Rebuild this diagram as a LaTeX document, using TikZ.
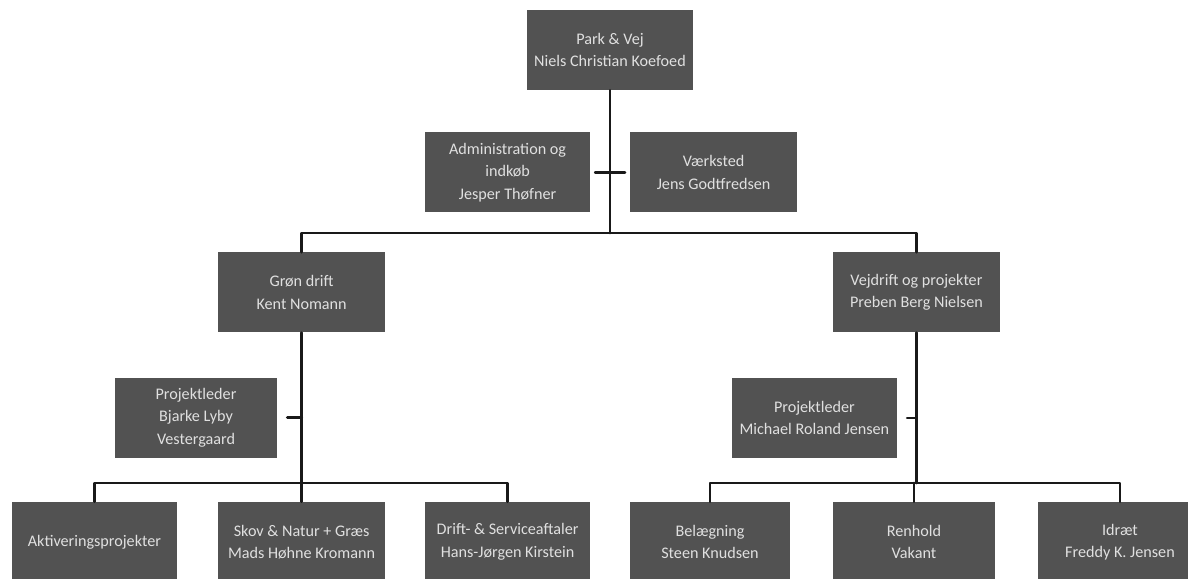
\documentclass[tikz,border=0pt]{standalone}
\usepackage{fontspec}
\setmainfont{Carlito}
\usepackage{tikz}

\begin{document}
\begin{tikzpicture}[line cap=round,line join=round,x=1.0cm,y=1.0cm,
  afd/.style={fill=black!68,text=white!88!black,minimum width=4.15cm,minimum height=2.0cm,inner sep=1pt,align=center,font=\fontsize{11.5}{16}\selectfont},
  forb/.style={line width=2pt,color=black!90}]
\clip(0,0) rectangle (29.7,14.45);
% ledelse
\node[afd] (park) at (15.25,13.2) {Park \& Vej\\Niels Christian Koefoed};
\node[afd,minimum width=4.125cm] (adm) at (12.69,10.14) {Administration og\\indkøb\\Jesper Thøfner};
\node[afd,minimum width=4.175cm] (vaerk) at (17.84,10.14) {Værksted\\Jens Godtfredsen};
% afdelinger
\node[afd,minimum width=4.175cm] (gron) at (7.54,7.14) {Grøn drift\\Kent Nomann};
\node[afd,minimum width=4.175cm] (vej) at (22.91,7.14) {Vejdrift og projekter\\Preben Berg Nielsen};
\node[afd,minimum width=4.05cm] (projA) at (4.9,4.01) {Projektleder\\Bjarke Lyby\\Vestergaard};
\node[afd,minimum width=4.125cm] (projB) at (20.36,4.0) {Projektleder\\Michael Roland Jensen};
% teams
\node[afd,minimum width=4.125cm] (akt) at (2.36,0.9) {Aktiveringsprojekter};
\node[afd,minimum width=4.175cm] (skov) at (7.54,0.9) {Skov \& Natur + Græs\\Mads Høhne Kromann};
\node[afd,minimum width=4.125cm] (drift) at (12.69,0.9) {Drift- \& Serviceaftaler\\Hans-Jørgen Kirstein};
\node[afd,minimum width=4.0cm] (bel) at (17.75,0.9) {Belægning\\Steen Knudsen};
\node[afd,minimum width=4.05cm] (ren) at (22.85,0.9) {Renhold\\Vakant};
\node[afd,minimum width=4.1cm] (idr) at (28.0,0.9) {Idræt\\Freddy K. Jensen};
% forbindelser
\coordinate (skinne1) at (15.25,8.625);
\coordinate (skinne2) at (7.54,2.375);
\coordinate (skinne3) at (22.91,2.375);
\draw[forb] (park.south) -- (skinne1);
\draw[forb] ([xshift=0.12cm]adm.east) -- ([xshift=-0.12cm]vaerk.west);
\draw[forb] (gron.north) |- (skinne1) -| (vej.north);
\draw[forb] (gron.south) -- (skinne2);
\draw[forb] ([xshift=0.25cm]projA.east) -- (projA.east -| gron.south);
\draw[forb] (akt.north) |- (skinne2) -| (drift.north);
\draw[forb] (skov.north) -- (skinne2);
\draw[forb] (vej.south) -- (skinne3);
\draw[forb] ([xshift=0.25cm]projB.east) -- (projB.east -| vej.south);
\draw[forb] (bel.north) |- (skinne3) -| (idr.north);
\draw[forb] (ren.north) -- (ren.north |- skinne3);
\end{tikzpicture}
\end{document}
